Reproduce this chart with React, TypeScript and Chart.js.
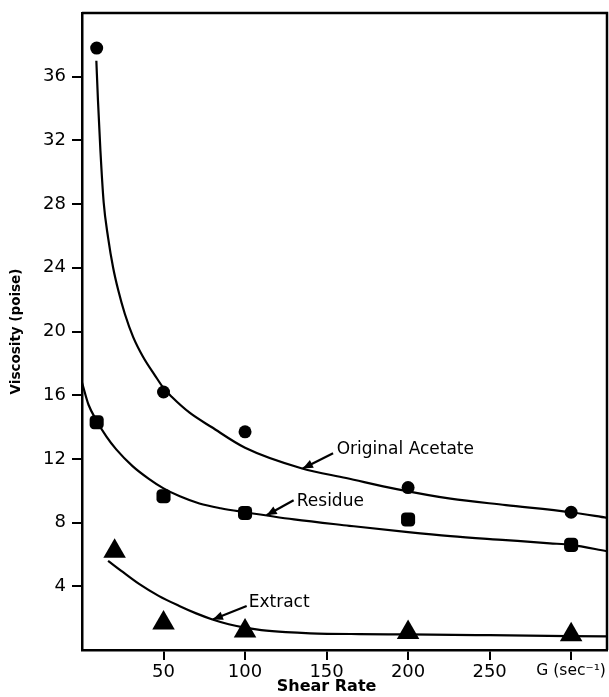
import React, { useEffect, useRef } from 'react';
import { Chart, registerables } from 'chart.js';

Chart.register(...registerables);

// ---- data ----
const xTickValues = [50, 100, 150, 200, 250, 300];
const xTickLabels = ['50', '100', '150', '200', '250', 'G (sec⁻¹)'];
const yTickValues = [4, 8, 12, 16, 20, 24, 28, 32, 36];

// measured points
const acetateX = [9, 50, 100, 200, 300];
const acetateY = [37.8, 16.2, 13.7, 10.2, 8.65];
const residueX = [9, 50, 100, 200, 300];
const residueY = [14.3, 9.65, 8.6, 8.2, 6.6];
const extractX = [20, 50, 100, 200, 300];
const extractY = [6.2, 1.7, 1.2, 1.1, 0.95];

// fitted curves
const acetateCurveX = [8.8, 9.8, 11.3, 13.3, 16.0, 19.1, 22.2, 26.3, 31.4, 37.5, 44.7, 50, 55, 66, 79.4, 100, 135, 162, 193, 226, 260, 300, 322];
const acetateCurveY = [37.0, 34.5, 31.35, 28.1, 25.9, 24.0, 22.6, 21.1, 19.65, 18.4, 17.25, 16.45, 15.9, 14.9, 14.0, 12.7, 11.4, 10.8, 10.1, 9.5, 9.1, 8.65, 8.3];
const residueCurveX = [0, 4, 9, 15, 21, 31, 41, 50, 60, 72, 85, 100, 130, 164, 200, 226, 260, 287, 300, 322];
const residueCurveY = [16.8, 15.4, 14.4, 13.4, 12.6, 11.55, 10.75, 10.15, 9.65, 9.2, 8.9, 8.65, 8.2, 7.8, 7.4, 7.15, 6.9, 6.7, 6.6, 6.2];
const extractCurveX = [16, 25, 35, 47, 60, 70, 80, 90, 100, 110, 125, 140, 170, 200, 250, 322];
const extractCurveY = [5.6, 4.9, 4.15, 3.4, 2.75, 2.3, 1.92, 1.62, 1.4, 1.25, 1.12, 1.05, 1.0, 0.98, 0.93, 0.85];

// curve labels with arrows (data coordinates)
const labelTexts = ['Original Acetate', 'Residue', 'Extract'];
const labelX = [155, 130.5, 101];
const labelY = [12.6, 9.3, 2.95];
const arrowFromX = [154, 129.8, 101];
const arrowFromY = [12.35, 9.4, 2.76];
const arrowToX = [135.4, 113.2, 80.2];
const arrowToY = [11.4, 8.46, 1.92];

const xTitle = 'Shear Rate';
const yTitle = 'Viscosity (poise)';

const zip = (xs: number[], ys: number[]) => xs.map((x, i) => ({ x, y: ys[i] }));

const FONT = "'DejaVu Sans', sans-serif";

const framePlugin = {
  id: 'frameAndLabels',
  afterDatasetsDraw(chart: any) {
    const { ctx, chartArea, scales } = chart;
    const sx = scales.x;
    const sy = scales.y;
    ctx.save();
    ctx.strokeStyle = '#000';
    ctx.lineWidth = 2.5;
    ctx.beginPath();
    ctx.moveTo(chartArea.left, chartArea.top);
    ctx.lineTo(chartArea.right, chartArea.top);
    ctx.lineTo(chartArea.right, chartArea.bottom);
    ctx.stroke();

    // curve labels
    ctx.fillStyle = '#000';
    ctx.font = `17px ${FONT}`;
    ctx.textBaseline = 'middle';
    ctx.textAlign = 'left';
    labelTexts.forEach((t, i) => {
      ctx.fillText(t, sx.getPixelForValue(labelX[i]) + 2, sy.getPixelForValue(labelY[i]));
      const x1 = sx.getPixelForValue(arrowFromX[i]);
      const y1 = sy.getPixelForValue(arrowFromY[i]);
      const x2 = sx.getPixelForValue(arrowToX[i]);
      const y2 = sy.getPixelForValue(arrowToY[i]);
      ctx.lineWidth = 2.2;
      ctx.beginPath();
      ctx.moveTo(x1, y1);
      ctx.lineTo(x2, y2);
      ctx.stroke();
      const ang = Math.atan2(y2 - y1, x2 - x1);
      const L = 11;
      const W = 0.4;
      ctx.beginPath();
      ctx.moveTo(x2, y2);
      ctx.lineTo(x2 - L * Math.cos(ang - W), y2 - L * Math.sin(ang - W));
      ctx.lineTo(x2 - L * Math.cos(ang + W), y2 - L * Math.sin(ang + W));
      ctx.closePath();
      ctx.fill();
    });

    // x-axis title, centred under the 150 tick
    ctx.font = `bold 16px ${FONT}`;
    ctx.textAlign = 'center';
    ctx.textBaseline = 'middle';
    ctx.fillText(xTitle, sx.getPixelForValue(150), chart.height - 10);
    ctx.restore();
  },
};

export default function App() {
  const ref = useRef<HTMLCanvasElement | null>(null);

  useEffect(() => {
    if (!ref.current) return;
    const lineDs = (xs: number[], ys: number[]) => ({
      type: 'line' as const,
      data: zip(xs, ys),
      borderColor: '#000',
      borderWidth: 2.2,
      pointRadius: 0,
      fill: false,
      cubicInterpolationMode: 'monotone' as const,
    });
    const ptDs = (xs: number[], ys: number[], style: string, r: number) => ({
      type: 'scatter' as const,
      data: zip(xs, ys),
      pointStyle: style,
      pointRadius: r,
      backgroundColor: '#000',
      borderColor: '#000',
      borderWidth: 0,
    });

    const chart = new Chart(ref.current, {
      type: 'scatter',
      data: {
        datasets: [
          lineDs(acetateCurveX, acetateCurveY),
          lineDs(residueCurveX, residueCurveY),
          lineDs(extractCurveX, extractCurveY),
          ptDs(acetateX, acetateY, 'circle', 6.5),
          ptDs(residueX, residueY, 'rectRounded', 8.2),
          ptDs(extractX, extractY, 'triangle', 13),
        ] as any,
      },
      options: {
        responsive: false,
        animation: false,
        layout: { padding: { top: 11, right: 2, left: 0, bottom: 0 } },
        plugins: { legend: { display: false }, tooltip: { enabled: false } },
        scales: {
          x: {
            type: 'linear',
            min: 0,
            max: 322,
            afterBuildTicks: (scale: any) => {
              scale.ticks = xTickValues.map((v) => ({ value: v }));
            },
            afterFit: (scale: any) => {
              scale.height = 47;
            },
            ticks: {
              autoSkip: false,
              maxRotation: 0,
              padding: 2,
              color: '#000',
              font: (ctx: any) => ({
                family: FONT,
                size: ctx.tick && ctx.tick.value === 300 ? 15.5 : 18,
              }),
              callback: (v: any) => {
                const i = xTickValues.indexOf(Number(v));
                return i >= 0 ? xTickLabels[i] : '';
              },
            },
            grid: { drawOnChartArea: false, drawTicks: true, tickLength: 10, color: '#000', lineWidth: 2 },
            border: { display: true, color: '#000', width: 2.5 },
          },
          y: {
            type: 'linear',
            min: 0,
            max: 40,
            afterBuildTicks: (scale: any) => {
              scale.ticks = yTickValues.map((v) => ({ value: v }));
            },
            afterFit: (scale: any) => {
              scale.width = 82;
              scale.paddingTop = 0;
              scale.paddingBottom = 0;
            },
            title: {
              display: true,
              text: yTitle,
              color: '#000',
              font: { family: FONT, size: 13.5, weight: 'bold' },
              padding: { top: 8, bottom: 0 },
            },
            ticks: {
              autoSkip: false,
              padding: 6,
              color: '#000',
              font: { family: FONT, size: 18 },
              callback: (v: any) => String(v),
            },
            grid: { drawOnChartArea: false, drawTicks: true, tickLength: 10, color: '#000', lineWidth: 2 },
            border: { display: true, color: '#000', width: 2.5 },
          },
        },
      },
      plugins: [framePlugin],
    } as any);
    return () => chart.destroy();
  }, []);

  return (
    <div style={{ position: 'absolute', left: 0, top: 0, width: 609, height: 697, overflow: 'hidden', background: '#fff' }}>
      <canvas ref={ref} width={620} height={697} style={{ display: 'block' }} />
    </div>
  );
}
